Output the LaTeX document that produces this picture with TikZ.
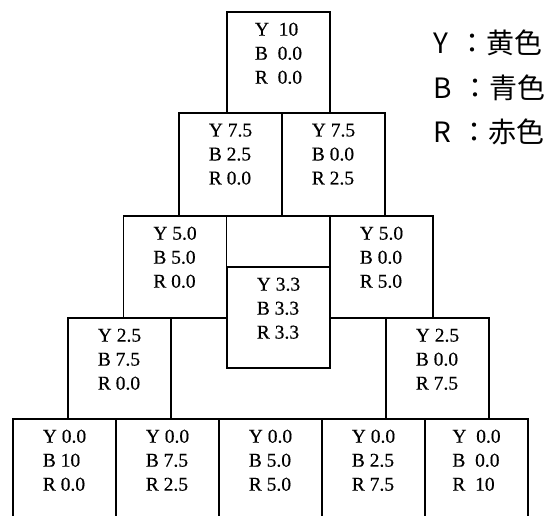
\documentclass[tikz,border=0pt]{standalone}
\usepackage{fontspec}
\setmainfont{Liberation Serif}
\newfontfamily\valfont[FakeBold=0.4]{Liberation Serif}
\newfontfamily\cjk{Noto Sans CJK JP}
\begin{document}
\begin{tikzpicture}[x=1pt,y=1pt,
  cell/.style={draw, line width=1.1pt, minimum width=103pt, inner sep=0pt, outer sep=0pt},
  vals/.style={anchor=north, align=left, inner sep=0pt, font=\valfont\fontsize{19.5}{24}\selectfont},
  legend/.style={anchor=base west, inner sep=0pt, font=\cjk\fontsize{28}{32}\selectfont}]
\useasboundingbox (0,0) rectangle (555,-515);
\clip (0,0) rectangle (555,-515);
% row 1
\node[cell, minimum height=101pt] (c1) at (278.5,-62.5) {};
% row 2
\node[cell, minimum height=103pt] (c2a) at (230.5,-164.5) {};
\node[cell, minimum height=103pt] (c2b) at (333.5,-164.5) {};
% row 3
\node[cell, minimum height=102pt] (c3a) at (175,-267) {};
\node[cell, minimum height=102pt] (c3c) at (381.5,-267) {};
% centre
\node[cell, minimum height=101pt] (c3b) at (278.5,-317.5) {};
% row 4
\node[cell, minimum height=101pt] (c4a) at (119.5,-368.5) {};
\node[cell, minimum height=101pt] (c4b) at (437.5,-368.5) {};
% row 5
\node[cell, minimum height=106pt] (c5a) at (64.5,-472) {};
\node[cell, minimum height=106pt] (c5b) at (167.5,-472) {};
\node[cell, minimum height=106pt] (c5c) at (270.5,-472) {};
\node[cell, minimum height=106pt] (c5d) at (373.5,-472) {};
\node[cell, minimum height=106pt] (c5e) at (476.5,-472) {};
% values
\node[vals] (t1) at ([yshift=-10.5pt]c1.north) {Y\ \ 10\\B\ \ 0.0\\R\ \ 0.0};
\node[vals] (t2a) at ([yshift=-10.5pt]c2a.north) {Y 7.5\\B 2.5\\R 0.0};
\node[vals] (t2b) at ([yshift=-10.5pt]c2b.north) {Y 7.5\\B 0.0\\R 2.5};
\node[vals] (t3a) at ([yshift=-10.5pt]c3a.north) {Y 5.0\\B 5.0\\R 0.0};
\node[vals] (t3c) at ([yshift=-10.5pt]c3c.north) {Y 5.0\\B 0.0\\R 5.0};
\node[vals] (t3b) at ([yshift=-10.5pt]c3b.north) {Y 3.3\\B 3.3\\R 3.3};
\node[vals] (t4a) at ([yshift=-10.5pt]c4a.north) {Y 2.5\\B 7.5\\R 0.0};
\node[vals] (t4b) at ([yshift=-10.5pt]c4b.north) {Y 2.5\\B 0.0\\R 7.5};
\node[vals] (t5a) at ([yshift=-10.5pt]c5a.north) {Y 0.0\\B 10\\R 0.0};
\node[vals] (t5b) at ([yshift=-10.5pt]c5b.north) {Y 0.0\\B 7.5\\R 2.5};
\node[vals] (t5c) at ([yshift=-10.5pt]c5c.north) {Y 0.0\\B 5.0\\R 5.0};
\node[vals] (t5d) at ([yshift=-10.5pt]c5d.north) {Y 0.0\\B 2.5\\R 7.5};
\node[vals] (t5e) at ([yshift=-10.5pt]c5e.north) {Y\ \ 0.0\\B\ \ 0.0\\R\ \ 10};
% legend
\node[legend] (ly) at (433,-53.3) {Y\hspace{10pt}：黄色};
\node[legend] (lb) at (433,-98.3) {B\hspace{10pt}：青色};
\node[legend] (lr) at (433,-142.3) {R\hspace{10pt}：赤色};
\end{tikzpicture}
\end{document}
